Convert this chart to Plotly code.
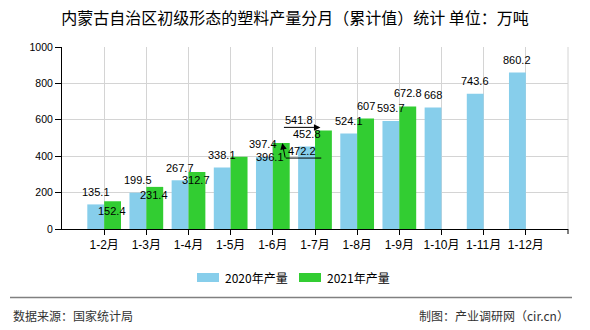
import plotly.graph_objects as go

# ---------------- data ----------------
months = ["1-2月", "1-3月", "1-4月", "1-5月", "1-6月", "1-7月",
          "1-8月", "1-9月", "1-10月", "1-11月", "1-12月"]
prod_2020 = [135.1, 199.5, 267.7, 338.1, 396.1, 452.8, 524.1, 593.7, 668, 743.6, 860.2]
prod_2021 = [152.4, 231.4, 312.7, 397.4, 472.2, 541.8, 607, 672.8, None, None, None]
series_names = ["2020年产量", "2021年产量"]
y_ticks = [0, 200, 400, 600, 800, 1000]

title_text = "内蒙古自治区初级形态的塑料产量分月（累计值）统计 单位：万吨"
source_text = "数据来源：国家统计局"
maker_text = "制图：产业调研网（cir.cn）"

# ---------------- styles ----------------
C2020 = "#87CEEB"
C2021 = "#32CD32"
GRID = "#d4d4d4"
LABEL_FONT = dict(family="Liberation Sans, Arial, sans-serif", size=11, color="black")
CJK = "Noto Sans CJK SC, Liberation Sans, sans-serif"

# label pixel offsets relative to the top-centre of each bar (dx, dy up)
off_2020 = {i: (0, 12.5) for i in range(len(months))}
off_2020[4] = (5.7, 0)
off_2021 = {i: (0, 12.5) for i in range(len(months))}
off_2021.update({0: (-1, -9.7), 1: (-0.7, -8.4), 2: (-1.3, -7.9),
                 3: (24.2, 12.7), 4: (21.1, -7.6), 5: (-24.1, 10.4),
                 7: (0, 13.5)})

L, R, T, B = 62, 22, 47, 101
W, H = 590, 330
PW, PH = W - L - R, H - T - B


def px(x):
    return (x - L) / PW


def py(y):
    return (H - B - y) / PH


fig = go.Figure()
fig.add_trace(go.Bar(x=months, y=prod_2020, name=series_names[0],
                     marker=dict(color=C2020, line=dict(width=0)), showlegend=False))
fig.add_trace(go.Bar(x=months, y=prod_2021, name=series_names[1],
                     marker=dict(color=C2021, line=dict(width=0)), showlegend=False))

ann = []
BAR_OFF = 0.2
for i, v in enumerate(prod_2020):
    dx, dy = off_2020[i]
    ann.append(dict(x=i - BAR_OFF, y=v, xref="x", yref="y", text=f"{v:g}",
                    showarrow=False, xshift=dx, yshift=dy, font=LABEL_FONT,
                    xanchor="center", yanchor="middle"))
for i, v in enumerate(prod_2021):
    if v is None:
        continue
    dx, dy = off_2021[i]
    ann.append(dict(x=i + BAR_OFF, y=v, xref="x", yref="y", text=f"{v:g}",
                    showarrow=False, xshift=dx, yshift=dy, font=LABEL_FONT,
                    xanchor="center", yanchor="middle"))

# leader lines for displaced labels (1-6 and 1-7 of 2021)
ARW = dict(text="", showarrow=True, arrowcolor="black", arrowwidth=1,
           font=dict(size=1), borderpad=0, xref="x", yref="y")
ann.append(dict(ARW, x=4 + BAR_OFF, y=prod_2021[4], xshift=1, yshift=0,
                ax=3, ay=15, arrowhead=2, arrowsize=1.3))
ann.append(dict(ARW, x=4 + BAR_OFF, y=prod_2021[4], xshift=40, yshift=-15,
                ax=-36, ay=0, arrowhead=0))
ann.append(dict(ARW, x=5 + BAR_OFF, y=prod_2021[5], xshift=-3, yshift=3,
                ax=-37, ay=0, arrowhead=2, arrowsize=1.3))

# legend (manual)
legend_items = [(197, C2020, series_names[0]), (299, C2021, series_names[1])]
shapes = []
for x0, col, name in legend_items:
    shapes.append(dict(type="rect", xref="paper", yref="paper",
                       x0=px(x0), x1=px(x0 + 22), y0=py(282), y1=py(273),
                       fillcolor=col, line=dict(width=0)))
    ann.append(dict(x=px(x0 + 26), y=py(277.5), xref="paper", yref="paper", text=name,
                    showarrow=False, xanchor="left", yanchor="middle",
                    font=dict(family=CJK, size=12, color="black")))

# footer
shapes.append(dict(type="line", xref="paper", yref="paper", x0=px(10), x1=px(572),
                   y0=py(297.5), y1=py(297.5), line=dict(color="#808080", width=1.5)))
ann.append(dict(x=px(11), y=py(315.5), xref="paper", yref="paper", text=source_text,
                showarrow=False, xanchor="left", yanchor="middle",
                font=dict(family=CJK, size=12, color="#333333")))
ann.append(dict(x=px(571), y=py(315.5), xref="paper", yref="paper", text=maker_text,
                showarrow=False, xanchor="right", yanchor="middle",
                font=dict(family=CJK, size=12, color="#333333")))

# right border of plot area and end tick of x axis
shapes.append(dict(type="line", xref="paper", yref="paper", x0=1, x1=1, y0=0, y1=1,
                   line=dict(color=GRID, width=1)))
shapes.append(dict(type="line", xref="paper", yref="paper", x0=1, x1=1, y0=0, y1=-5 / PH,
                   line=dict(color="black", width=1)))

fig.update_layout(
    width=W, height=H,
    margin=dict(l=L, r=R, t=T, b=B, pad=0),
    paper_bgcolor="white", plot_bgcolor="white",
    barmode="group", bargap=0.2, bargroupgap=0,
    title=dict(text=title_text, x=0.5, xref="container", xanchor="center",
               y=1 - 18.5 / H, yref="container", yanchor="middle",
               font=dict(family=CJK, size=16, color="black")),
    xaxis=dict(type="category", range=[-1, 11], showgrid=True, gridcolor=GRID,
               showline=True, linecolor="black", linewidth=1,
               ticks="outside", ticklen=5, tickcolor="black",
               tickfont=dict(family="Liberation Sans, Noto Sans CJK SC, sans-serif",
                             size=12, color="black"),
               fixedrange=True),
    yaxis=dict(range=[0, 1000], tickvals=y_ticks, showgrid=True, gridcolor=GRID,
               showline=True, linecolor="black", linewidth=1,
               ticks="outside", ticklen=6, tickcolor="black", zeroline=False,
               tickfont=dict(family="Liberation Sans, sans-serif", size=10.5, color="black"),
               fixedrange=True),
    annotations=ann,
    shapes=shapes,
    showlegend=False,
)

fig.write_html("out.html")
